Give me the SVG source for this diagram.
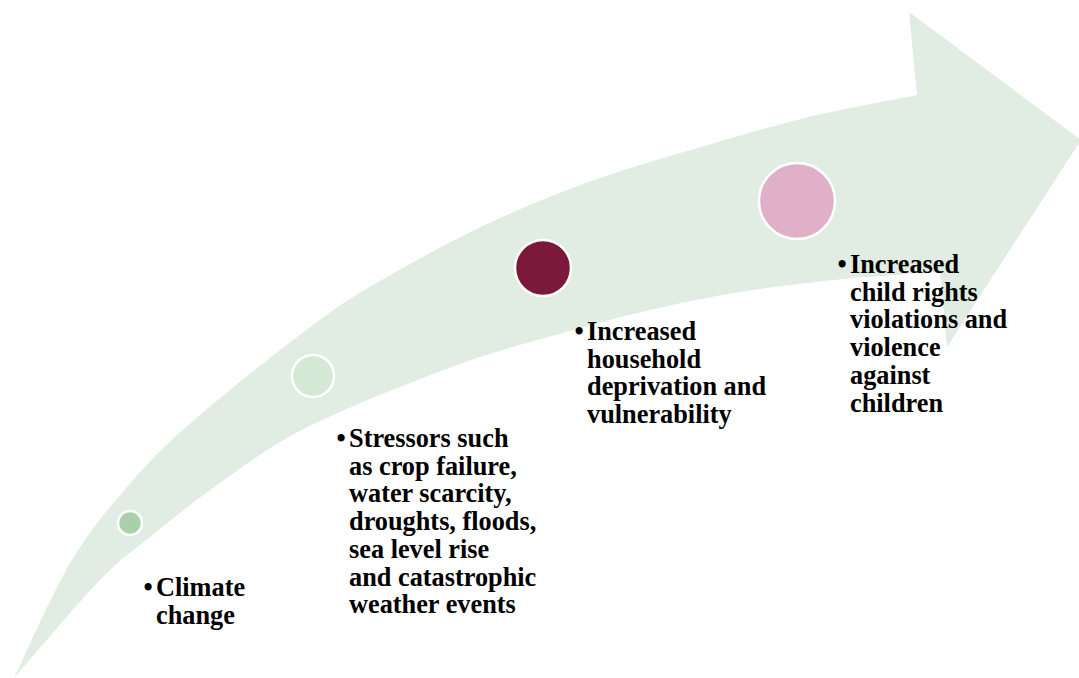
<svg xmlns="http://www.w3.org/2000/svg" width="1079" height="678" viewBox="0 0 1079 678">
<style>
.lbl{font-family:"Liberation Serif","Times New Roman",serif;font-weight:bold;font-size:26.3px;fill:#000}
.blt{text-anchor:middle}
.dot{stroke:#ffffff;stroke-width:2.5}
</style>
<rect width="1079" height="678" fill="#ffffff"/>
<g id="arrow">
<path fill="#e1ede2" d="M14,678 C23.7,658.3 51.8,593.3 72,560 C92.2,526.7 113.7,502.2 135,478 C156.3,453.8 170.3,440.5 200,415 C229.7,389.5 283,347.3 313,325 C343,302.7 351,297.8 380,281 C409,264.2 451.3,240.8 487,224 C522.7,207.2 558.3,192.8 594,180 C629.7,167.2 665.2,157.5 701,147 C736.8,136.5 773,125.7 809,117 C845,108.3 899,98.7 917,95 L909,12 L1081,140 L947,347 L940,272 C924,273.2 877.3,275.7 844,279 C810.7,282.3 772.3,286.8 740,292 C707.7,297.2 680.2,303 650,310 C619.8,317 587.3,326.2 559,334 C530.7,341.8 506.5,348.2 480,357 C453.5,365.8 423.3,377.8 400,387 C376.7,396.2 360,402.8 340,412 C320,421.2 301.7,429 280,442 C258.3,455 231.7,474.2 210,490 C188.3,505.8 168.3,522 150,537 C131.7,552 122.7,556.5 100,580 C77.3,603.5 28.3,661.7 14,678 Z"/>
</g>
<g id="connectors"></g>
<g id="node1">
<circle class="dot" cx="130" cy="523" r="12" fill="#aacfab"/>
<text class="lbl"><tspan class="blt" x="148" y="596">•</tspan><tspan x="156" y="596">Climate</tspan><tspan x="156" y="623.7">change</tspan></text>
</g>
<g id="node2">
<circle class="dot" cx="313" cy="376" r="21" fill="#d5e8d6"/>
<text class="lbl"><tspan class="blt" x="341" y="447">•</tspan><tspan x="349" y="447">Stressors such</tspan><tspan x="349" y="474.7">as crop failure,</tspan><tspan x="349" y="502.4">water scarcity,</tspan><tspan x="349" y="530.1">droughts, floods,</tspan><tspan x="349" y="557.8">sea level rise</tspan><tspan x="349" y="585.5">and catastrophic</tspan><tspan x="349" y="613.2">weather events</tspan></text>
</g>
<g id="node3">
<circle class="dot" cx="543" cy="268" r="28" fill="#7b193b"/>
<text class="lbl"><tspan class="blt" x="579" y="340">•</tspan><tspan x="587" y="340">Increased</tspan><tspan x="587" y="367.7">household</tspan><tspan x="587" y="395.4">deprivation and</tspan><tspan x="587" y="423.1">vulnerability</tspan></text>
</g>
<g id="node4">
<circle class="dot" cx="797" cy="201" r="38" fill="#dfb0c8"/>
<text class="lbl"><tspan class="blt" x="842" y="273">•</tspan><tspan x="850" y="273">Increased</tspan><tspan x="850" y="300.7">child rights</tspan><tspan x="850" y="328.4">violations and</tspan><tspan x="850" y="356.1">violence</tspan><tspan x="850" y="383.8">against</tspan><tspan x="850" y="411.5">children</tspan></text>
</g>
</svg>
